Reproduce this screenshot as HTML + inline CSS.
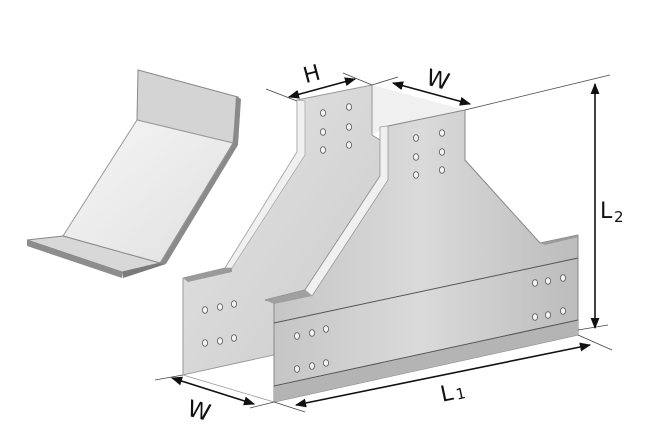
<!DOCTYPE html>
<html><head><style>
html,body{margin:0;padding:0;background:#fff;}
svg{display:block;}
text{font-family:"DejaVu Sans","Liberation Sans",sans-serif;fill:#111;}
</style></head><body>
<svg width="670" height="434" viewBox="0 0 670 434" xmlns="http://www.w3.org/2000/svg">
<defs>
<linearGradient id="gb" x1="0" y1="0" x2="1" y2="1">
<stop offset="0" stop-color="#e4e4e4"/><stop offset="1" stop-color="#cbcbcb"/></linearGradient>
<linearGradient id="gf" x1="0" y1="0" x2="1" y2="0">
<stop offset="0" stop-color="#c4c4c4"/><stop offset="0.5" stop-color="#dadada"/><stop offset="1" stop-color="#bcbcbc"/></linearGradient>
<linearGradient id="gc" x1="0" y1="0" x2="1" y2="1">
<stop offset="0" stop-color="#f6f6f6"/><stop offset="1" stop-color="#e0e0e0"/></linearGradient>
<marker id="ar" viewBox="0 0 10 10" refX="9" refY="5" markerWidth="7" markerHeight="7" orient="auto-start-reverse"><path d="M0,1 L10,5 L0,9 z" fill="#111"/></marker>
</defs>

<polygon points="138,70 238,97 233,143 137,120" fill="#d4d4d4" stroke="#888" stroke-width="1"/>
<polygon points="236,96 241,99 238,145 166,264 160,263 233,143" fill="#8a8a8a"/>
<polygon points="137,120 233,143 160,263 63,236" fill="url(#gc)" stroke="#999" stroke-width="1"/>
<polygon points="63,236 160,263 122,272 27,240" fill="#d8d8d8" stroke="#888" stroke-width="1"/>
<polygon points="27,240 122,272 122,278 27,246" fill="#8d8d8d"/>
<polygon points="122,272 160,263 166,264 123,278" fill="#7a7a7a"/>

<polygon points="372,85 465,110 388,126 372,135" fill="#f0f0f0"/>

<polygon points="297,100 372,85 372,135 380,140 380,176 305,290 274,300 274,355 183,375 183,278 225,268 297,152" fill="url(#gb)" stroke="#999" stroke-width="1"/>
<polygon points="297,100 305,101 305,155 232,268 225,268 297,152" fill="#f0f0f0" stroke="#aaa" stroke-width="0.8"/>
<polygon points="183,278 225,268 232,268 232,272 188,282" fill="#9a9a9a"/>
<polygon points="183,375 274,355 274,402" fill="#fff" stroke="#999" stroke-width="0.8"/>

<polygon points="388,126 465,110 465,160 540,243 578,235 578,335 274,402 274,302 265,300 305,290 380,176" fill="url(#gf)" stroke="#888" stroke-width="1"/>
<polygon points="380,127 388,126 388,180 312,296 305,290 380,176" fill="#f0f0f0" stroke="#999" stroke-width="0.8"/>
<polygon points="265,300 305,290 312,296 274,304" fill="#a0a0a0"/>
<polygon points="540,243 578,235 578,237 545,245" fill="#9a9a9a"/>
<polygon points="274,387 578,320 578,335 274,402" fill="#b4b4b4"/>
<line x1="274" y1="323" x2="578" y2="258" stroke="#555" stroke-width="1"/>
<line x1="274" y1="386" x2="578" y2="320" stroke="#555" stroke-width="1"/>

<g fill="#f4f4f4" stroke="#666" stroke-width="0.9">
<ellipse cx="323" cy="113" rx="2.6" ry="3.3"/><ellipse cx="349" cy="107" rx="2.6" ry="3.3"/>
<ellipse cx="323" cy="132" rx="2.6" ry="3.3"/><ellipse cx="349" cy="127" rx="2.6" ry="3.3"/>
<ellipse cx="323" cy="150" rx="2.6" ry="3.3"/><ellipse cx="349" cy="145" rx="2.6" ry="3.3"/>
<ellipse cx="416" cy="138" rx="2.6" ry="3.3"/><ellipse cx="442" cy="133" rx="2.6" ry="3.3"/>
<ellipse cx="416" cy="157" rx="2.6" ry="3.3"/><ellipse cx="442" cy="152" rx="2.6" ry="3.3"/>
<ellipse cx="416" cy="175" rx="2.6" ry="3.3"/><ellipse cx="442" cy="170" rx="2.6" ry="3.3"/>
<ellipse cx="205" cy="310" rx="2.6" ry="3.3"/><ellipse cx="220" cy="307" rx="2.6" ry="3.3"/><ellipse cx="234" cy="304" rx="2.6" ry="3.3"/>
<ellipse cx="205" cy="343" rx="2.6" ry="3.3"/><ellipse cx="220" cy="341" rx="2.6" ry="3.3"/><ellipse cx="234" cy="338" rx="2.6" ry="3.3"/>
<ellipse cx="297" cy="336" rx="2.6" ry="3.3"/><ellipse cx="312" cy="333" rx="2.6" ry="3.3"/><ellipse cx="326" cy="329" rx="2.6" ry="3.3"/>
<ellipse cx="297" cy="369" rx="2.6" ry="3.3"/><ellipse cx="312" cy="366" rx="2.6" ry="3.3"/><ellipse cx="326" cy="363" rx="2.6" ry="3.3"/>
<ellipse cx="535" cy="283" rx="2.6" ry="3.3"/><ellipse cx="548" cy="281" rx="2.6" ry="3.3"/><ellipse cx="563" cy="278" rx="2.6" ry="3.3"/>
<ellipse cx="535" cy="317" rx="2.6" ry="3.3"/><ellipse cx="548" cy="315" rx="2.6" ry="3.3"/><ellipse cx="563" cy="311" rx="2.6" ry="3.3"/>
</g>

<g stroke="#444" stroke-width="0.8">
<line x1="266" y1="89" x2="297" y2="101"/>
<line x1="343" y1="73" x2="372" y2="85"/>
<line x1="372" y1="85" x2="398" y2="77"/>
<line x1="465" y1="110" x2="610" y2="75"/>
<line x1="578" y1="335" x2="612" y2="350"/>
<line x1="578" y1="330" x2="608" y2="325"/>
<line x1="155" y1="380" x2="183" y2="375"/>
<line x1="274" y1="402" x2="250" y2="408"/>
<line x1="274" y1="402" x2="305" y2="412"/>
</g>
<g stroke="#111" stroke-width="1.6" fill="none">
<line x1="289" y1="97" x2="355" y2="79" marker-start="url(#ar)" marker-end="url(#ar)"/>
<line x1="393" y1="83" x2="470" y2="104" marker-start="url(#ar)" marker-end="url(#ar)"/>
<line x1="595" y1="84" x2="595" y2="328" marker-start="url(#ar)" marker-end="url(#ar)"/>
<line x1="296" y1="405" x2="590" y2="345" marker-start="url(#ar)" marker-end="url(#ar)"/>
<line x1="172" y1="378" x2="254" y2="404" marker-start="url(#ar)" marker-end="url(#ar)"/>
</g>
<text x="303" y="81" font-size="22" transform="rotate(-15 313 72)">H</text>
<text x="427" y="88" font-size="23" transform="rotate(15 440 78)">W</text>
<text x="600" y="218" font-size="22">L</text><text x="614" y="222" font-size="15">2</text>
<text x="440" y="400" font-size="22" transform="rotate(-12 450 390)">L</text><text x="455" y="401" font-size="15" transform="rotate(-12 450 390)">1</text>
<text x="188" y="420" font-size="23" transform="rotate(15 205 410)">W</text>
</svg>
</body></html>
